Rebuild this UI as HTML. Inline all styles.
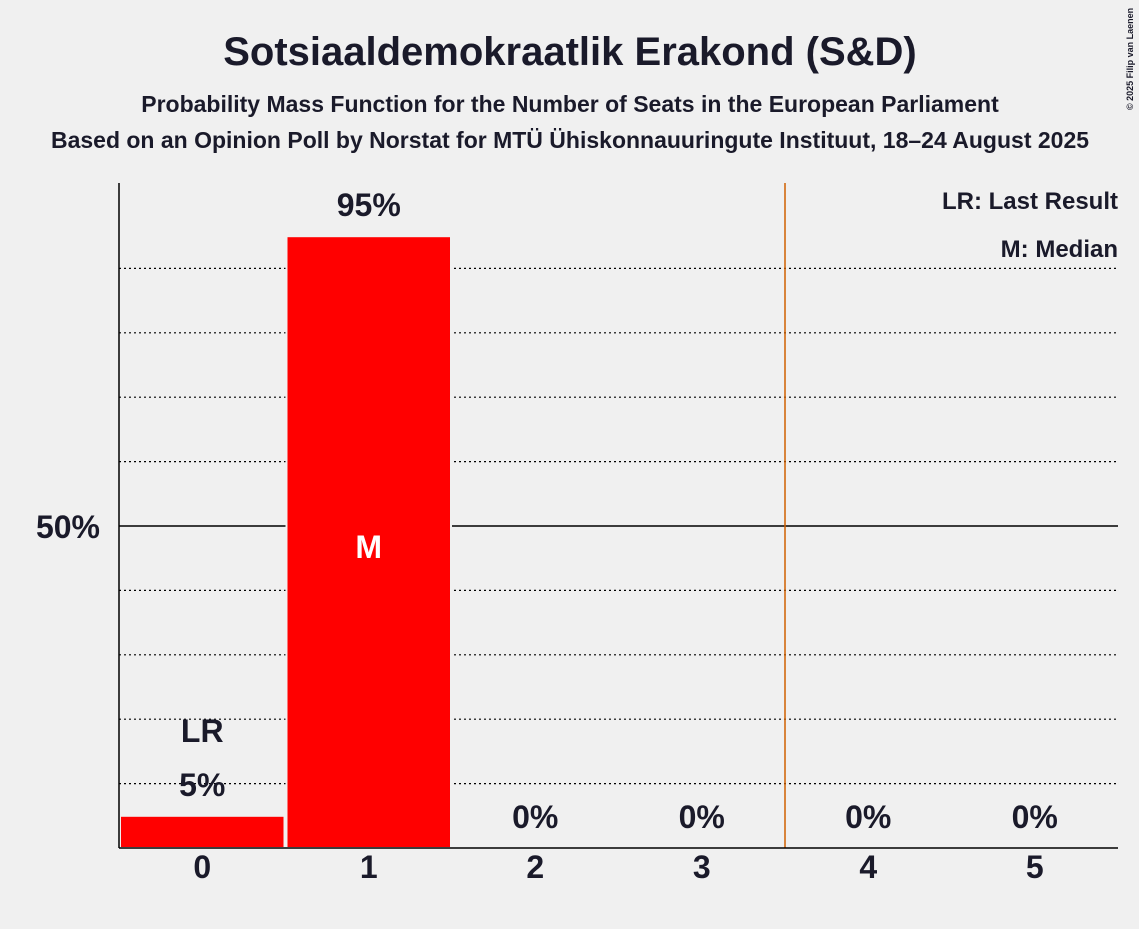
<!DOCTYPE html>
<html><head><meta charset="utf-8"><style>
body{margin:0;background:#f0f0f0;}
svg text{font-family:"Liberation Sans",sans-serif;font-weight:bold;fill:#1a1a2a;}
</style></head><body>
<svg width="1139" height="924" xmlns="http://www.w3.org/2000/svg">
<rect width="1139" height="924" fill="#f0f0f0"/>
<text x="570" y="65" font-size="40" text-anchor="middle">Sotsiaaldemokraatlik Erakond (S&amp;D)</text>
<text x="570" y="112" font-size="23" text-anchor="middle">Probability Mass Function for the Number of Seats in the European Parliament</text>
<text x="570" y="148" font-size="23" text-anchor="middle">Based on an Opinion Poll by Norstat for MTÜ Ühiskonnauuringute Instituut, 18–24 August 2025</text>
<text x="1133" y="110" font-size="9" font-weight="normal" transform="rotate(-90 1133 110)">© 2025 Filip van Laenen</text>
<g id="grid"></g>
<g id="bars"></g>
<g id="labels"></g>
<line x1="119" y1="183" x2="119" y2="848" stroke="#000" stroke-width="1.5"/>
<line x1="119" y1="848" x2="1118" y2="848" stroke="#000" stroke-width="1.5"/>
<text x="100" y="538" font-size="32" text-anchor="end">50%</text>
<text x="1118" y="209" font-size="24" text-anchor="end">LR: Last Result</text>
<text x="1118" y="257" font-size="24" text-anchor="end">M: Median</text>
</svg>
<script>
const categories=[0,1,2,3,4,5];
const probs=[5,95,0,0,0,0];
const valueLabels=["5%","95%","0%","0%","0%","0%"];
const lastResult=0;
const median=1;
const ns="http://www.w3.org/2000/svg";
const x0=119,x1=1118,yBase=848,y50=526;
const bw=(x1-x0)/categories.length;
const xs=i=>x0+i*bw;
const ys=v=>yBase-(yBase-y50)*v/50;
function mk(t,a,p){const e=document.createElementNS(ns,t);for(const k in a)e.setAttribute(k,a[k]);p.appendChild(e);return e;}
const grid=document.getElementById('grid');
for(let v=10;v<=90;v+=10){
 if(v===50)continue;
 const l=mk('line',{x1:x0,x2:x1,y1:ys(v),y2:ys(v),stroke:'#000','stroke-dasharray':'2,3','stroke-width':1.2},grid);
 
 
}
const l50=mk('line',{x1:x0,x2:x1,y1:ys(50),y2:ys(50),stroke:'#000','stroke-width':1.5},grid);


const bars=document.getElementById('bars');
const labels=document.getElementById('labels');
categories.forEach((c,i)=>{
 const h=yBase-ys(probs[i]);
 if(probs[i]>0){
  const r=mk('rect',{x:xs(i)+1,y:ys(probs[i]),width:bw-2,height:h,fill:'#ff0000',stroke:'#f0f0f0','stroke-width':2},bars);
  
  
 }
 const cx=xs(i)+bw/2;
 const t=mk('text',{x:cx,y:878,'font-size':32,'text-anchor':'middle'},labels);t.textContent=c;
 
 
 const vy=probs[i]>0?ys(probs[i])-20:ys(0)-20;
 const vt=mk('text',{x:cx,y:vy,'font-size':32,'text-anchor':'middle'},labels);vt.textContent=valueLabels[i];
 
 
 if(c===lastResult){
  const lt=mk('text',{x:cx,y:vy-54,'font-size':32,'text-anchor':'middle'},labels);lt.textContent='LR';
  
  
 }
 if(c===median){
  const mt=mk('text',{x:cx,y:ys(50)+32,'font-size':32,'text-anchor':'middle',style:'fill:#fff'},labels);mt.textContent='M';
  
  
 }
});
const lrx=xs(3.5+0.5);
const lr=mk('line',{x1:xs(4),x2:xs(4),y1:183,y2:848,stroke:'#d06000','stroke-width':1.5},bars);


</script>
</body></html>
